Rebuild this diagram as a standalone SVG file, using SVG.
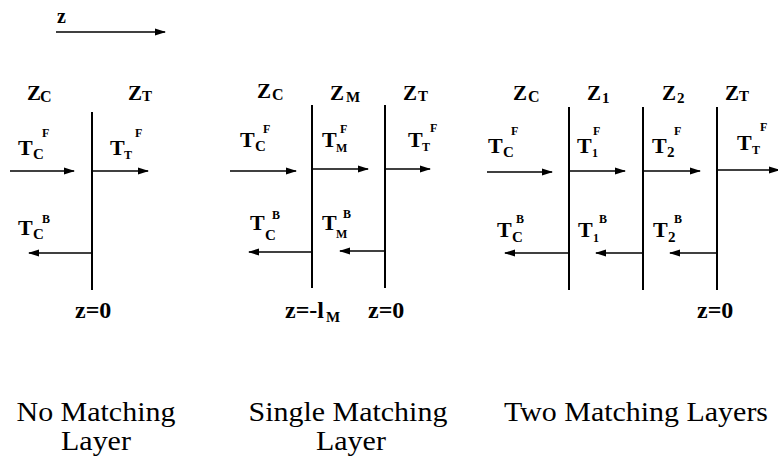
<svg xmlns="http://www.w3.org/2000/svg" width="778" height="464" viewBox="0 0 778 464">
<style>
.b{font-family:"Liberation Serif","Times New Roman",serif;font-weight:bold;font-size:21px;fill:#000}
.t{font-size:22px}
.s{font-size:15px}
.p{font-size:12px}
.zl{font-size:24px}
.cap{font-family:"Liberation Serif","Times New Roman",serif;font-size:28px;text-anchor:middle;fill:#000}
.ln{stroke:#000;stroke-width:2;fill:none}
.ar{stroke:#000;stroke-width:1.6;fill:none;marker-end:url(#ah)}
</style>
<defs>
<marker id="ah" markerWidth="11" markerHeight="8" refX="10" refY="4" orient="auto" markerUnits="userSpaceOnUse">
<path d="M0,0.5 L11,4 L0,7.5 z" fill="#000"/>
</marker>
</defs>
<rect width="778" height="464" fill="#fff"/>

<g id="axis">
<text class="b" x="57" y="23" style="font-size:20px">z</text>
</g>

<g id="panel1">
<line class="ln" x1="92" y1="112" x2="92" y2="290"/>
<text class="b" x="27" y="100">Z<tspan x="40" y="102" style="font-size:16px">C</tspan></text>
<text class="b" x="128" y="100">Z<tspan class="s" x="142" y="101">T</tspan></text>
<text class="b t" x="18" y="155">T<tspan class="s" x="33" y="159">C</tspan><tspan class="p" x="42" y="137">F</tspan></text>
<text class="b t" x="110" y="155">T<tspan class="p" x="124" y="159">T</tspan><tspan class="p" x="135" y="137">F</tspan></text>
<text class="b t" x="18" y="235">T<tspan class="s" x="33" y="239">C</tspan><tspan class="p" x="42" y="223">B</tspan></text>
<text class="b zl" x="75" y="318">z=0</text>
</g>

<g id="panel2">
<line class="ln" x1="312" y1="105" x2="312" y2="288"/>
<line class="ln" x1="385" y1="105" x2="385" y2="288"/>
<text class="b" x="257" y="98">Z<tspan x="272" y="100" style="font-size:16px">C</tspan></text>
<text class="b" x="330" y="100">Z<tspan x="346" y="102" style="font-size:15px">M</tspan></text>
<text class="b" x="403" y="100">Z<tspan class="s" x="418" y="101">T</tspan></text>
<text class="b t" x="240" y="147">T<tspan class="s" x="255" y="151">C</tspan><tspan class="p" x="263" y="133">F</tspan></text>
<text class="b t" x="322" y="147">T<tspan class="p" x="336" y="152">M</tspan><tspan class="p" x="340" y="133">F</tspan></text>
<text class="b t" x="408" y="147">T<tspan class="p" x="422" y="151">T</tspan><tspan class="p" x="430" y="132">F</tspan></text>
<text class="b t" x="250" y="230">T<tspan class="s" x="265" y="240">C</tspan><tspan class="p" x="272" y="219">B</tspan></text>
<text class="b t" x="322" y="230">T<tspan class="p" x="336" y="238">M</tspan><tspan class="p" x="343" y="218">B</tspan></text>
<text class="b zl" x="285" y="318">z=-l<tspan class="s" x="326" y="322">M</tspan></text>
<text class="b zl" x="368" y="318">z=0</text>
</g>

<g id="panel3">
<line class="ln" x1="569" y1="107" x2="569" y2="290"/>
<line class="ln" x1="643" y1="107" x2="643" y2="290"/>
<line class="ln" x1="717" y1="107" x2="717" y2="290"/>
<text class="b" x="513" y="100">Z<tspan x="528" y="102" style="font-size:16px">C</tspan></text>
<text class="b" x="587" y="100">Z<tspan class="s" x="602" y="103">1</tspan></text>
<text class="b" x="662" y="100">Z<tspan class="s" x="677" y="103">2</tspan></text>
<text class="b" x="725" y="100">Z<tspan class="s" x="739" y="101">T</tspan></text>
<text class="b t" x="488" y="153">T<tspan class="s" x="503" y="157">C</tspan><tspan class="p" x="511" y="135">F</tspan></text>
<text class="b t" x="577" y="153">T<tspan class="p" x="592" y="157">1</tspan><tspan class="p" x="593" y="135">F</tspan></text>
<text class="b t" x="652" y="153">T<tspan class="s" x="667" y="157">2</tspan><tspan class="p" x="674" y="135">F</tspan></text>
<text class="b t" x="737" y="150">T<tspan class="p" x="752" y="154">T</tspan><tspan class="p" x="760" y="131">F</tspan></text>
<text class="b t" x="497" y="237">T<tspan class="s" x="512" y="242">C</tspan><tspan class="p" x="516" y="223">B</tspan></text>
<text class="b t" x="578" y="237">T<tspan class="p" x="593" y="242">1</tspan><tspan class="p" x="599" y="223">B</tspan></text>
<text class="b t" x="653" y="237">T<tspan class="s" x="668" y="242">2</tspan><tspan class="p" x="674" y="223">B</tspan></text>
<text class="b zl" x="697" y="318">z=0</text>
</g>

<g id="connectors">
<line class="ar" x1="56" y1="32" x2="165" y2="32"/>
<line class="ar" x1="10" y1="171" x2="74" y2="171"/>
<line class="ar" x1="93" y1="171" x2="148" y2="171"/>
<line class="ar" x1="92" y1="253" x2="29" y2="253"/>
<line class="ar" x1="230" y1="171" x2="296" y2="171"/>
<line class="ar" x1="312" y1="169" x2="368" y2="169"/>
<line class="ar" x1="385" y1="169" x2="430" y2="169"/>
<line class="ar" x1="312" y1="252" x2="249" y2="252"/>
<line class="ar" x1="385" y1="251" x2="340" y2="251"/>
<line class="ar" x1="487" y1="172" x2="552" y2="172"/>
<line class="ar" x1="569" y1="171" x2="625" y2="171"/>
<line class="ar" x1="643" y1="171" x2="700" y2="171"/>
<line class="ar" x1="717" y1="170" x2="779" y2="170"/>
<line class="ar" x1="569" y1="253" x2="505" y2="253"/>
<line class="ar" x1="643" y1="253" x2="596" y2="253"/>
<line class="ar" x1="717" y1="253" x2="670" y2="253"/>
</g>

<g id="captions" transform="scale(1.07,1)">
<text class="cap" x="89.7" y="421">No Matching</text>
<text class="cap" x="89.7" y="450">Layer</text>
<text class="cap" x="325.2" y="421">Single Matching</text>
<text class="cap" x="328" y="450">Layer</text>
<text class="cap" x="594.4" y="421">Two Matching Layers</text>
</g>
</svg>
